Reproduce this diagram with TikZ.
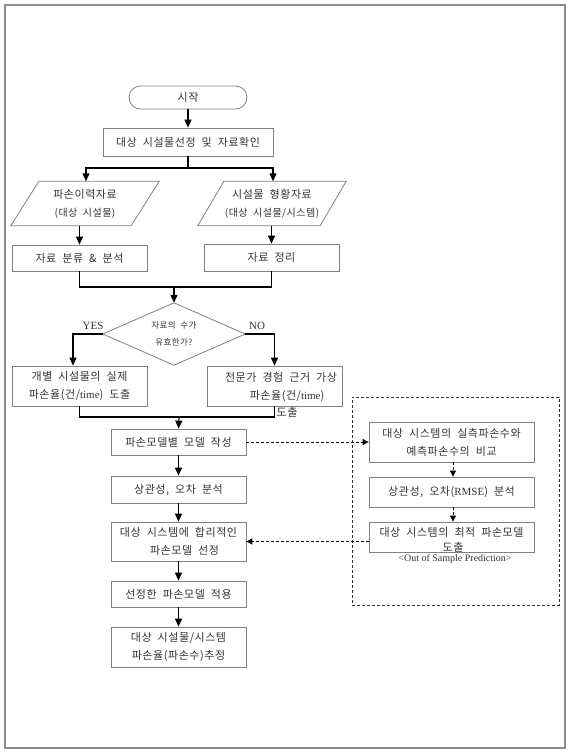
\documentclass[tikz,border=0pt]{standalone}
\usepackage{fontspec}
\setmainfont{Liberation Serif}
\newfontfamily\kr[WordSpace=2.0,LetterSpace=5]{Noto Sans CJK KR}
\newcommand\latn[1]{{\rmfamily #1}}
\usetikzlibrary{arrows.meta}
\definecolor{boxgray}{HTML}{808080}
\definecolor{txt}{HTML}{333333}
\definecolor{framegray}{HTML}{8C8C8C}
\tikzset{
  box/.style={draw=boxgray, line width=0.8pt, minimum width=135pt, inner sep=0pt,
    font=\kr\fontsize{11}{18}\selectfont, text=txt, align=center},
  plain/.style={inner sep=0pt, font=\kr\fontsize{11}{18}\selectfont, text=txt, align=center},
  shapeline/.style={draw=boxgray, line width=0.8pt},
  conn/.style={draw=black, line width=1.2pt},
  arr/.style={conn, -{Triangle[width=7pt,length=8pt]}},
  darr/.style={draw=black, line width=0.9pt, dash pattern=on 3pt off 2pt, -{Triangle[width=6pt,length=6pt]}},
  lbl/.style={inner sep=0pt, font=\rmfamily\fontsize{11}{13}\selectfont, text=txt},
}
\begin{document}
\begin{tikzpicture}[x=1pt,y=-1pt]
\useasboundingbox (0,0) rectangle (575,755);
\draw[framegray, line width=1.2pt] (5,5) rectangle (565,748);

% start
\node[box, minimum width=118pt, minimum height=23pt, rounded corners=11.5pt] (start) at (188,97.5) {시작};
\node[box, minimum width=170pt, minimum height=28pt] (sel) at (188,142) {대상 시설물선정 및 자료확인};
\draw[arr] (start.south) -- (sel.north);

% parallelograms
\node[plain, minimum width=120pt, minimum height=44pt] (p1) at (85,203.5)
  {파손이력자료\\{\fontsize{10}{17}\selectfont(대상 시설물)}};
\draw[shapeline] ([xshift=14pt]p1.north west) -- ([xshift=14pt]p1.north east)
  -- ([xshift=-14pt]p1.south east) -- ([xshift=-14pt]p1.south west) -- cycle;
\node[plain, minimum width=122pt, minimum height=44pt] (p2) at (272,203.5)
  {시설물 형황자료\\{\fontsize{10}{17}\selectfont(대상 시설물/시스템)}};
\draw[shapeline] ([xshift=13pt]p2.north west) -- ([xshift=13pt]p2.north east)
  -- ([xshift=-13pt]p2.south east) -- ([xshift=-13pt]p2.south west) -- cycle;

\coordinate (split) at (188,168);
\draw[conn] (sel.south) -- (split);
\draw[arr] (split) -| ([xshift=1pt]p1.north);
\draw[arr] (split) -| ([xshift=1pt]p2.north);

% boxes
\node[box, minimum height=26pt] (b1) at (79.5,258) {자료 분류 \& 분석};
\node[box, minimum height=27pt] (b2) at (271.5,257.5) {자료 정리};
\draw[arr] (p1.south -| b1.north) -- (b1.north);
\draw[arr] (p2.south -| b2.north) -- (b2.north);

% decision
\node[plain, font=\kr\fontsize{8.5}{17}\selectfont, minimum width=142pt, minimum height=62pt] (dia) at (174,334) {자료의 수가\\유효한가?};
\draw[shapeline] (dia.north) -- (dia.east) -- (dia.south) -- (dia.west) -- cycle;
\coordinate (j1) at (174,287);
\draw[conn] (b1.south) |- (j1) -| (b2.south);
\draw[arr] (j1) -- (dia.north);
\node[lbl] (yes) at (93,326) {YES};
\node[lbl] (no) at (257,326) {NO};

% yes / no boxes
\node[box, minimum height=40pt] (yb) at (79.5,386) {개별 시설물의 실제\\파손율(건/\latn{time}) 도출};
\node[box, minimum height=40pt] (nb) at (274.5,386) {};
\node[plain, font=\kr\fontsize{11}{17.5}\selectfont] (nbt) at (281,395) {전문가 경험 근거 가상\\\ \ 파손율(건/\latn{time})\\\ \ 도출};
\draw[arr] (dia.west) -| ([xshift=-6.5pt]yb.north);
\draw[arr] (dia.east) -| (nb.north);

% main chain
\coordinate (j2) at (179,417);
\node[box, minimum height=26pt] (model) at (178.5,442) {파손모델별 모델 작성};
\node[box, minimum height=27pt] (corr) at (178.5,489.5) {상관성, 오차 분석};
\node[box, minimum height=39pt] (sel2) at (178.5,541.5) {대상 시스템에 합리적인\\\ \ 파손모델 선정};
\node[box, minimum height=26pt] (apply) at (178.5,594) {선정한 파손모델 적용};
\node[box, minimum height=40pt] (est) at (178.5,647) {대상 시설물/시스템\\파손율(파손수)추정};
\draw[conn] (yb.south) |- (j2) -| (nb.south);
\draw[arr] (j2) -- (model.north);
\draw[arr] (model) -- (corr);
\draw[arr] (corr) -- (sel2);
\draw[arr] (sel2) -- (apply);
\draw[arr] (apply) -- (est);

% right group
\node[draw=black!80, line width=0.9pt, dash pattern=on 3pt off 2pt, minimum width=207pt, minimum height=208pt, inner sep=0pt] (grp) at (455.5,501) {};
\node[box, minimum width=165pt, minimum height=40pt] (r1) at (451.5,442) {대상 시스템의 실측파손수와\\예측파손수의 비교};
\node[box, minimum width=165pt, minimum height=30pt] (r2) at (451.5,492) {상관성, 오차(\latn{RMSE}) 분석};
\node[box, minimum width=165pt, minimum height=30pt] (r3) at (451.5,537) {};
\node[plain] (r3a) at (451.5,532) {대상 시스템의 최적 파손모델};
\node[plain] (r3b) at (453,547) {도출};
\node[lbl, font=\rmfamily\fontsize{10}{12}\selectfont] (r3c) at (455,559.5) {<Out of Sample Prediction>};
\draw[darr] (model.east) -- (r1.west);
\draw[darr] ([xshift=1.5pt]r1.south) -- ([xshift=1.5pt]r2.north);
\draw[darr] ([xshift=1.5pt]r2.south) -- ([xshift=1.5pt]r3.north);
\draw[darr] (r3.west |- sel2.east) -- (sel2.east);
\end{tikzpicture}
\end{document}
